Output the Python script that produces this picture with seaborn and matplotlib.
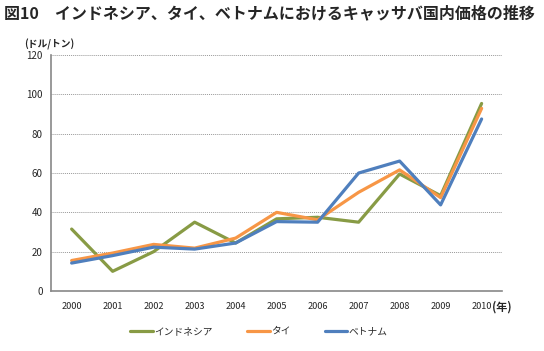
import pandas as pd
import matplotlib.pyplot as plt
import seaborn as sns

# データ
years = [2000, 2001, 2002, 2003, 2004, 2005, 2006, 2007, 2008, 2009, 2010]
indonesia = [31.5, 10, 20, 35, 24.4, 36.7, 37.5, 35, 59.5, 48.5, 95.4]
thai = [15.5, 19.3, 23.7, 21.8, 26.9, 40, 36.2, 50.2, 61.6, 47.5, 92.9]
vietnam = [14.2, 18, 22.3, 21.3, 24.4, 35.3, 35, 60, 66.1, 43.8, 87.5]
names = ['インドネシア', 'タイ', 'ベトナム']
colors = ['#889B45', '#F79646', '#4F7FBD']

df = pd.DataFrame({
    '年': years * 3,
    '価格': indonesia + thai + vietnam,
    '国': [names[0]] * 11 + [names[1]] * 11 + [names[2]] * 11,
})

sns.set_style('white')
plt.rcParams['font.family'] = ['Noto Sans CJK JP', 'DejaVu Sans']

fig = plt.figure(figsize=(5.44, 3.51), dpi=100)
ax = fig.add_axes([0.094, 0.171, 0.829, 0.672])

sns.lineplot(data=df, x='年', y='価格', hue='国', palette=colors,
             linewidth=2.3, ax=ax, legend=False)

ax.set_xlim(1999.5, 2010.5)
ax.set_ylim(0, 120)
ax.set_yticks(range(0, 121, 20))
ax.set_xticks(years)
ax.set_xticklabels([str(y) for y in years], fontsize=6.6)
ax.set_xticks([y + 0.5 for y in [1999] + years], minor=True)
ax.tick_params(axis='x', which='major', length=0, pad=8)
ax.tick_params(axis='x', which='minor', length=3, color='#888888', width=0.8)
ax.tick_params(axis='y', length=3, color='#888888', width=0.8, labelsize=7, pad=3)
ax.set_xlabel('')
ax.set_ylabel('')

ax.yaxis.grid(True, linestyle=(0, (1, 1)), color='#999999', linewidth=0.7)
ax.set_axisbelow(True)
for s in ['top', 'right']:
    ax.spines[s].set_visible(False)
for s in ['left', 'bottom']:
    ax.spines[s].set_color('#888888')
    ax.spines[s].set_linewidth(1.2)

fig.text(0.008, 0.962, '図10　インドネシア、タイ、ベトナムにおけるキャッサバ国内価格の推移',
         fontsize=11.5, fontweight='bold', va='center')
fig.text(0.045, 0.873, '(ドル/トン)', fontsize=7, fontweight='bold', va='center')
fig.text(0.905, 0.125, '(年)', fontsize=8, fontweight='bold', va='center')

handles = [plt.Line2D([], [], color=c, linewidth=2.3) for c in colors]
fig.legend(handles, names, loc='center', bbox_to_anchor=(0.476, 0.057), ncol=3,
           frameon=False, fontsize=7, columnspacing=3.6, handlelength=2.3,
           handletextpad=0.1)

plt.savefig('out.png', dpi=100)
